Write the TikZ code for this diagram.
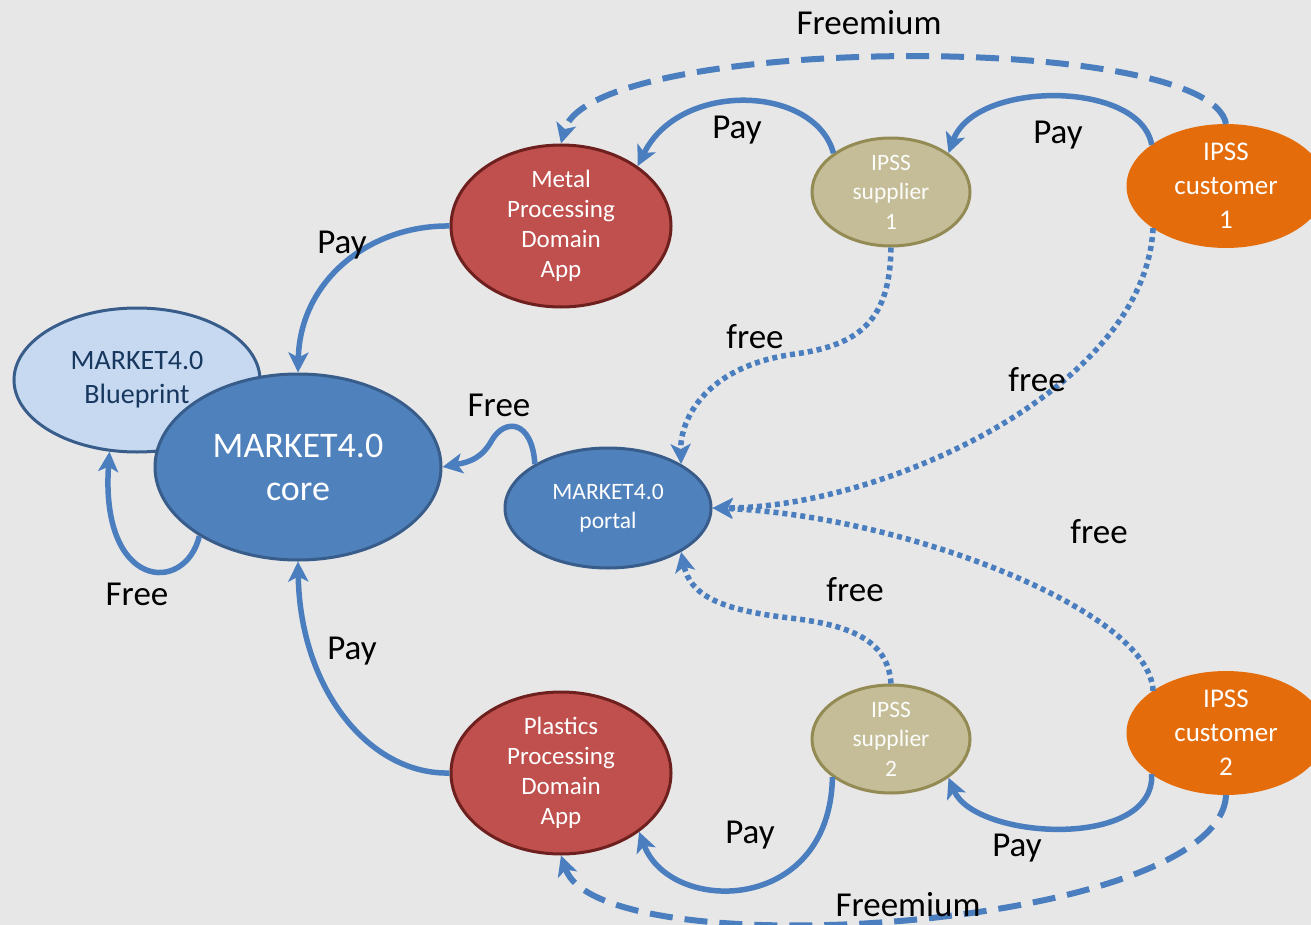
\documentclass[tikz,border=0pt]{standalone}
\usepackage{fontspec}
\setmainfont{Carlito}
\usetikzlibrary{shapes.geometric,arrows.meta}
\definecolor{bg}{RGB}{231,231,231}
\definecolor{ln}{RGB}{74,126,190}
\definecolor{coreblue}{RGB}{79,129,189}
\definecolor{coreedge}{RGB}{56,93,138}
\definecolor{lightblue}{RGB}{198,217,241}
\definecolor{bptext}{RGB}{23,55,94}
\definecolor{appred}{RGB}{192,80,77}
\definecolor{appedge}{RGB}{110,32,30}
\definecolor{supfill}{RGB}{196,189,151}
\definecolor{supedge}{RGB}{148,138,84}
\definecolor{custfill}{RGB}{228,108,10}
\tikzset{
  ell/.style={ellipse, inner sep=0pt, align=center, line width=3pt},
  lbl/.style={font=\fontsize{35}{40}\selectfont, text=black, inner sep=0pt},
  conn/.style={draw=ln, line width=5.5pt, -{Stealth[length=20pt,width=20pt,inset=5pt]}},
  dashconn/.style={conn, line width=6pt, dash pattern=on 23pt off 12pt},
  dotconn/.style={conn, line width=5.5pt, dash pattern=on 5pt off 4pt},
}
\begin{document}
\begin{tikzpicture}[x=1pt,y=-1pt]
\fill[bg] (0,0) rectangle (1311,925);
\useasboundingbox (0,0) rectangle (1311,925);
% nodes
\node[ell, draw=coreedge, fill=lightblue, text=bptext, minimum width=246pt, minimum height=144pt,
      font=\fontsize{28}{34}\selectfont] (bp) at (137,380) {MARKET4.0\\Blueprint};
\node[ell, draw=coreedge, fill=coreblue, text=white, minimum width=286pt, minimum height=186pt,
      font=\fontsize{36}{43}\selectfont] (core) at (298,467) {MARKET4.0\\core};
\node[ell, draw=coreedge, fill=coreblue, text=white, minimum width=206pt, minimum height=120pt,
      font=\fontsize{23.5}{29}\selectfont] (portal) at (608,508) {MARKET4.0\\portal};
\node[ell, draw=appedge, fill=appred, text=white, minimum width=220pt, minimum height=162pt,
      font=\fontsize{25}{30}\selectfont] (metal) at (561,226) {Metal\\Processing\\Domain\\App};
\node[ell, draw=appedge, fill=appred, text=white, minimum width=220pt, minimum height=162pt,
      font=\fontsize{25}{30}\selectfont] (plastic) at (561,773) {Plastics\\Processing\\Domain\\App};
\node[ell, draw=supedge, fill=supfill, text=white!95!supfill, minimum width=158pt, minimum height=108pt,
      font=\fontsize{23.5}{29.5}\selectfont] (s1) at (891,192) {IPSS\\supplier\\1};
\node[ell, draw=supedge, fill=supfill, text=white!95!supfill, minimum width=158pt, minimum height=108pt,
      font=\fontsize{23.5}{29.5}\selectfont] (s2) at (891,739) {IPSS\\supplier\\2};
\node[ell, draw=custfill, fill=custfill, text=white, minimum width=196pt, minimum height=106pt,
      font=\fontsize{27}{34}\selectfont] (c1) at (1226,186) {IPSS\\customer\\1};
\node[ell, draw=custfill, fill=custfill, text=white, minimum width=196pt, minimum height=106pt,
      font=\fontsize{27}{34}\selectfont] (c2) at (1226,733) {IPSS\\customer\\2};
% connectors
\draw[conn] (metal.180) .. controls (370,225) and (300,280) .. (core.90);
\draw[conn] (plastic.180) .. controls (370,775) and (300,690) .. (core.270);
\draw[conn] (s1.146) .. controls (815,85) and (680,80) .. (metal.38);
\draw[conn] (c1.151) .. controls (1140,80) and (975,80) .. (s1.34);
\draw[dashconn] (c1.90) .. controls (1210,30) and (590,35) .. (metal.90);
\draw[conn] (s2.213) .. controls (830,915) and (670,915) .. (plastic.323);
\draw[conn] (c2.209) .. controls (1155,850) and (975,840) .. (s2.326);
\draw[dashconn] (c2.270) .. controls (1220,930) and (600,970) .. (plastic.270);
\draw[dotconn] (s1.270) .. controls (890,320) and (860,345) .. (795,354)
      .. controls (705,366) and (680,420) .. (portal.31);
\draw[dotconn] (c1.210) .. controls (1145,390) and (880,508) .. (portal.0);
\draw[dotconn] (c2.150) .. controls (1150,610) and (900,515) .. (portal.0);
\draw[dotconn] (s2.90) .. controls (888,640) and (850,625) .. (790,618)
      .. controls (720,610) and (690,595) .. (portal.329);
\draw[conn] (portal.149) .. controls (532,420) and (505,418) .. (492,440)
      .. controls (482,458) and (470,462) .. (core.0);
\draw[conn] (core.215) .. controls (185,595) and (100,590) .. (bp.249);
% labels
\node[lbl] (lf1) at (869,23) {Freemium};
\node[lbl] (lp1) at (737,130) {Pay};
\node[lbl] (lp2) at (1058,135) {Pay};
\node[lbl] (lp3) at (342,245) {Pay};
\node[lbl] (lfr1) at (755,337) {free};
\node[lbl] (lfr2) at (1037,380) {free};
\node[lbl] (lF1) at (499,405) {Free};
\node[lbl] (lF2) at (137,594) {Free};
\node[lbl] (lfr3) at (1099,532) {free};
\node[lbl] (lfr4) at (855,590) {free};
\node[lbl] (lp4) at (352,651) {Pay};
\node[lbl] (lp5) at (750,835) {Pay};
\node[lbl] (lp6) at (1017,848) {Pay};
\node[lbl] (lf2) at (908,905) {Freemium};
\end{tikzpicture}
\end{document}
